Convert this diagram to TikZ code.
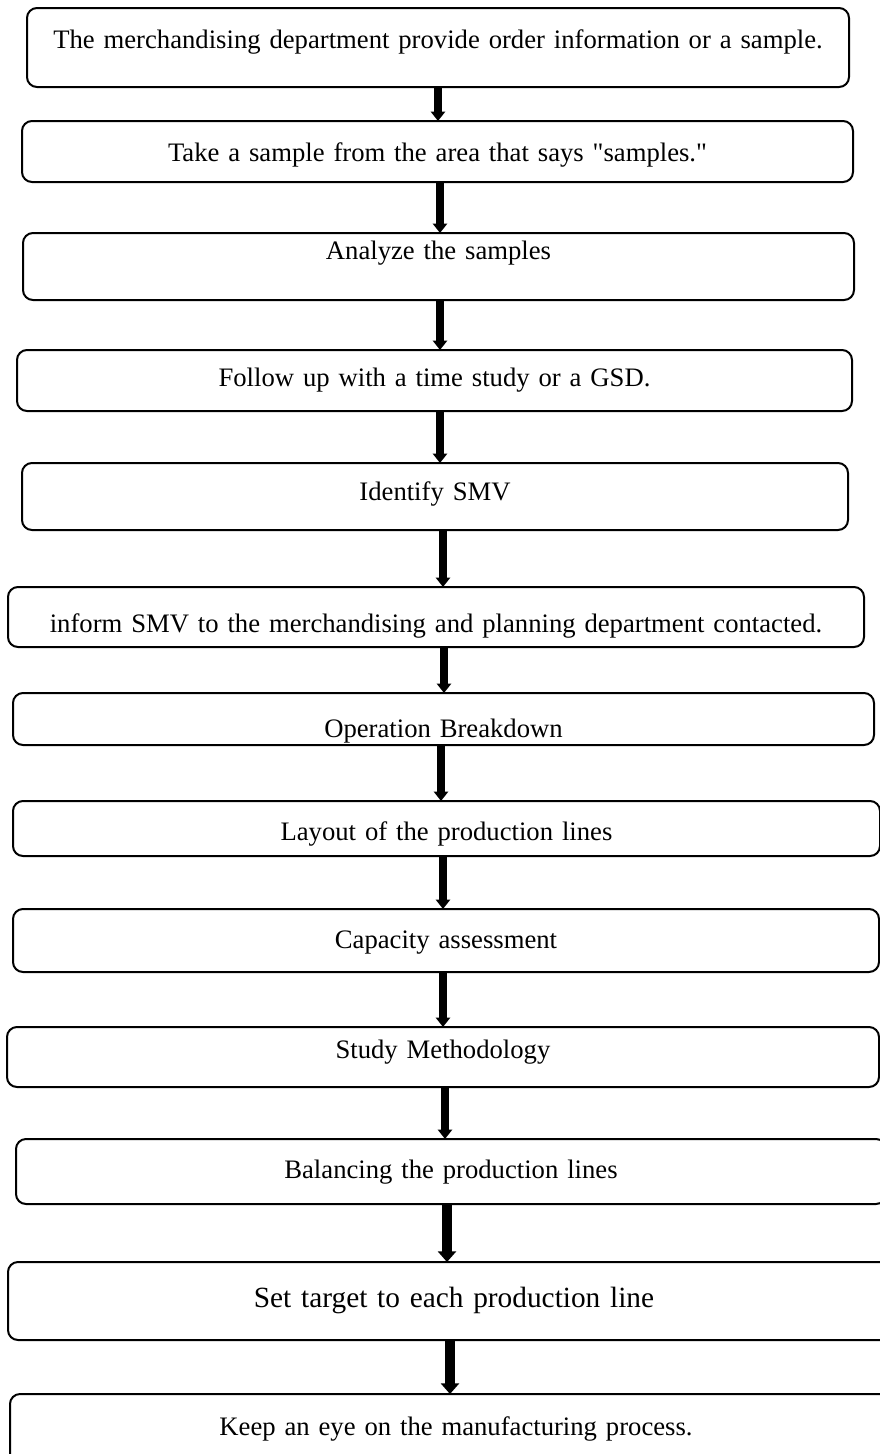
\documentclass[tikz,border=0pt]{standalone}
\usepackage{fontspec}
\setmainfont{Liberation Serif}[Ligatures=TeXOff]
\usetikzlibrary{arrows.meta}

\tikzset{
  stepbox/.style={draw=black, line width=1.5pt, rounded corners=7.5pt,
    anchor=north west, inner xsep=0pt, inner ysep=0pt, outer sep=0pt,
    align=center, font=\fontsize{20pt}{24pt}\selectfont},
  bigtext/.style={font=\fontsize{22pt}{26pt}\selectfont},
  flow/.style={draw=black, line width=5.3pt,
    -{Triangle[length=7pt,width=10.5pt]}},
  heavyflow/.style={draw=black, line width=7.5pt,
    -{Triangle[length=8pt,width=13.5pt]}}
}

\begin{document}
\begin{tikzpicture}[x=0.75pt,y=-0.75pt]
\useasboundingbox (0,0) rectangle (880,1454);
\fill[white] (0,0) rectangle (880,1454);
\clip (0,0) rectangle (880,1454);

% process steps, top to bottom
\node[stepbox, text width=616.5pt, text height=30pt, text depth=29.25pt] (b1) at (27,8)
  {The merchandising department provide order information or a sample.};
\node[stepbox, text width=623.25pt, text height=30pt, text depth=15.75pt] (b2) at (22,121)
  {Take a sample from the area that says "samples."};
\node[stepbox, text width=623.25pt, text height=19.5pt, text depth=30.75pt] (b3) at (23,233)
  {Analyze the samples};
\node[stepbox, text width=626.25pt, text height=27pt, text depth=18.75pt] (b4) at (17,350)
  {Follow up with a time study or a GSD.};
\node[stepbox, text width=619.5pt, text height=27.75pt, text depth=22.5pt] (b5) at (22,463)
  {Identify SMV};
\node[stepbox, text width=642pt, text height=33.75pt, text depth=11.25pt] (b6) at (8,587)
  {inform SMV to the merchandising and planning department contacted.};
\node[stepbox, text width=645.75pt, text height=33pt, text depth=6pt] (b7) at (13,693)
  {Operation Breakdown};
\node[stepbox, text width=650.25pt, text height=29.25pt, text depth=12pt] (b8) at (13,801)
  {Layout of the production lines};
\node[stepbox, text width=649.5pt, text height=29.25pt, text depth=18pt] (b9) at (13,909)
  {Capacity assessment};
\node[stepbox, text width=654pt, text height=23.25pt, text depth=21.75pt] (b10) at (7,1027)
  {Study Methodology};
\node[stepbox, text width=652.5pt, text height=29.25pt, text depth=19.5pt] (b11) at (16,1139)
  {Balancing the production lines};
\node[stepbox, bigtext, text width=669pt, text height=33.75pt, text depth=24.75pt] (b12) at (8,1262)
  {Set target to each production line};
\node[stepbox, text width=669pt, text height=30.75pt, text depth=33.75pt] (b13) at (10,1394)
  {Keep an eye on the manufacturing process.};

% horizontal positions of the connecting arrows
\coordinate (c1) at (438,0);
\coordinate (c2) at (440,0);
\coordinate (c3) at (440,0);
\coordinate (c4) at (440,0);
\coordinate (c5) at (443,0);
\coordinate (c6) at (444,0);
\coordinate (c7) at (441,0);
\coordinate (c8) at (443,0);
\coordinate (c9) at (443,0);
\coordinate (c10) at (445,0);
\coordinate (c11) at (447,0);
\coordinate (c12) at (450,0);

\draw[flow] (b1.south -| c1) -- (b2.north -| c1);
\draw[flow] (b2.south -| c2) -- (b3.north -| c2);
\draw[flow] (b3.south -| c3) -- (b4.north -| c3);
\draw[flow] (b4.south -| c4) -- (b5.north -| c4);
\draw[flow] (b5.south -| c5) -- (b6.north -| c5);
\draw[flow] (b6.south -| c6) -- (b7.north -| c6);
\draw[flow] (b7.south -| c7) -- (b8.north -| c7);
\draw[flow] (b8.south -| c8) -- (b9.north -| c8);
\draw[flow] (b9.south -| c9) -- (b10.north -| c9);
\draw[flow] (b10.south -| c10) -- (b11.north -| c10);
\draw[heavyflow] (b11.south -| c11) -- (b12.north -| c11);
\draw[heavyflow] (b12.south -| c12) -- (b13.north -| c12);
\end{tikzpicture}
\end{document}
